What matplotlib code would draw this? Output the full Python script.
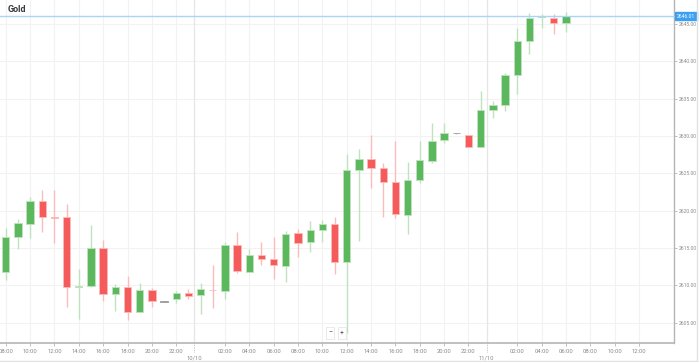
import matplotlib.pyplot as plt
import pandas as pd
from matplotlib.lines import Line2D
from matplotlib.patches import Rectangle
from matplotlib.transforms import blended_transform_factory

plt.rcParams["font.family"] = ["Roboto", "DejaVu Sans"]

# Hourly candles, first one at 09/10 08:00
first_candle = "2024-10-09 08:00"
opens = [2611.76, 2616.45, 2618.19, 2621.35, 2619.20, 2619.12, 2609.80, 2609.93,
         2615.05, 2608.86, 2609.75, 2606.49, 2609.39, 2607.85, 2608.19, 2609.03,
         2608.68, 2609.45, 2609.26, 2615.41, 2611.84, 2614.12, 2613.50, 2612.64,
         2616.98, 2615.78, 2617.38, 2618.19, 2613.18, 2625.41, 2626.97, 2625.68,
         2623.89, 2619.47, 2624.12, 2626.70, 2629.47, 2630.37, 2630.10, 2628.53,
         2633.53, 2634.16, 2638.17, 2642.68, 2645.90, 2645.84, 2645.09]
highs = [2617.65, 2618.86, 2621.80, 2622.78, 2622.78, 2620.90, 2612.16, 2618.09,
         2616.08, 2610.15, 2611.27, 2610.37, 2609.62, 2607.90, 2609.30, 2609.56,
         2610.29, 2612.74, 2615.86, 2617.11, 2614.88, 2615.78, 2616.53, 2617.33,
         2617.56, 2618.67, 2618.76, 2619.12, 2627.60, 2628.23, 2630.10, 2626.43,
         2629.38, 2626.53, 2629.38, 2631.71, 2631.79, 2630.40, 2630.15, 2636.07,
         2634.73, 2638.40, 2644.46, 2646.43, 2646.34, 2646.34, 2646.57]
lows = [2610.73, 2614.88, 2616.31, 2617.20, 2615.64, 2607.07, 2605.47, 2609.85,
        2607.96, 2606.62, 2605.37, 2606.40, 2607.15, 2607.80, 2607.61, 2608.15,
        2606.18, 2607.02, 2608.19, 2611.63, 2611.80, 2612.70, 2610.86, 2610.42,
        2613.77, 2614.52, 2615.78, 2611.49, 2603.60, 2615.95, 2623.00, 2619.12,
        2619.07, 2616.85, 2623.67, 2626.35, 2629.11, 2630.34, 2628.50, 2628.50,
        2632.38, 2633.39, 2635.63, 2640.98, 2644.42, 2643.62, 2643.89]
closes = [2616.45, 2618.32, 2621.35, 2619.16, 2619.00, 2609.75, 2609.90, 2615.01,
          2608.86, 2609.75, 2606.49, 2609.39, 2607.88, 2607.85, 2609.03, 2608.59,
          2609.48, 2609.35, 2615.41, 2611.93, 2614.08, 2613.50, 2612.74, 2616.89,
          2615.68, 2617.38, 2618.23, 2613.14, 2625.41, 2626.97, 2625.68, 2623.85,
          2619.57, 2624.12, 2626.75, 2629.38, 2630.37, 2630.37, 2628.53, 2633.49,
          2634.12, 2638.17, 2642.76, 2645.84, 2646.05, 2645.09, 2646.01]

price_ticks = [2605, 2610, 2615, 2620, 2625, 2630, 2635, 2640, 2645]
day_labels = ["10/10", "11/10"]
tick_range = ("2024-10-09 08:00", "2024-10-11 12:00")
y_range = (2602.30, 2648.21)
x_range = (-0.47, 54.9)

UP = "#5cb85c"
UP_WICK = "#bfe3bf"
DOWN = "#f55b5b"
DOWN_WICK = "#fbbcbc"
FLAT = "#9a9a9a"
GRID = "#f2f2f2"
TEXT = "#8a8a8a"

t0 = pd.Timestamp(first_candle)


def hours_since_start(ts):
    return (pd.Timestamp(ts) - t0) / pd.Timedelta(hours=1)


fig = plt.figure(figsize=(6.99, 3.62), dpi=100)
ax = fig.add_axes([0, 19 / 362, 674.3 / 699, 343 / 362])
ax.set_xlim(*x_range)
ax.set_ylim(*y_range)

# Grid: even hours, skipping midnight which becomes a date separator.
tick_times = pd.date_range(*tick_range, freq="2h")
tick_times = [t for t in tick_times if t.hour != 0]
tick_x = [hours_since_start(t) for t in tick_times]
for x in tick_x:
    ax.axvline(x, color=GRID, lw=0.8, zorder=0)
for p in price_ticks:
    ax.axhline(p, color=GRID, lw=0.8, zorder=0)

midnights = [t0.normalize() + pd.Timedelta(days=d + 1) for d in range(len(day_labels))]
day_x = [hours_since_start(m) - 0.5 for m in midnights]
for x in day_x:
    ax.axvline(x, color="#e6e6e6", lw=0.9, zorder=0)

# Candles
width = 0.6
for i, (o, h, l, c) in enumerate(zip(opens, highs, lows, closes)):
    if c > o:
        body, wick = UP, UP_WICK
    elif c < o:
        body, wick = DOWN, DOWN_WICK
    else:
        body, wick = FLAT, "#cccccc"
    ax.vlines(i, l, h, color=wick, lw=1.0, zorder=1)
    bottom = min(o, c)
    height = max(abs(c - o), 0.05)
    edge = wick if c != o else body
    ax.add_patch(Rectangle((i - width / 2, bottom), width, height,
                           facecolor=body, edgecolor=edge, lw=0.6, zorder=2))

# Current price line and tag
last_price = closes[-1]
ax.axhline(last_price, color="#a9d5f7", lw=1.0, zorder=3, clip_on=False)
trans = blended_transform_factory(ax.transAxes, ax.transData)
ax.text(1.004, last_price, f"{last_price:.2f}", transform=trans, fontsize=3.6,
        color="white", va="center", ha="left",
        bbox=dict(boxstyle="square,pad=0.3", fc="#3b9ff2", ec="#3b9ff2"))

# Axes styling
for side in ("top", "left"):
    ax.spines[side].set_visible(False)
ax.spines["right"].set_color("#b5b5b5")
ax.spines["bottom"].set_color("#b5b5b5")
ax.spines["right"].set_linewidth(1.0)
ax.spines["bottom"].set_linewidth(1.2)

ax.yaxis.tick_right()
ax.set_yticks(price_ticks)
ax.set_yticklabels([f"{p:.2f}" for p in price_ticks])
ax.tick_params(axis="y", length=2, width=0.6, color="#b5b5b5", pad=1,
               labelsize=3.6, labelcolor=TEXT)

ax.set_xticks(tick_x)
ax.set_xticklabels([t.strftime("%H:%M") for t in tick_times])
ax.tick_params(axis="x", length=2, width=0.6, color="#b5b5b5", pad=2,
               labelsize=4.2, labelcolor=TEXT)

trans_x = blended_transform_factory(ax.transData, ax.transAxes)
for x, label in zip(day_x, day_labels):
    ax.plot([x, x], [0, -0.025], color="#b5b5b5", lw=0.6, ls=(0, (1, 1)),
            transform=trans_x, clip_on=False)
    ax.text(x, -0.037, label, transform=trans_x, fontsize=4.2, color=TEXT,
            ha="center", va="top")

# Title and chart chrome
fig.text(8 / 699, 1 - 10 / 362, "Gold", fontsize=6.5, fontweight="bold",
         color="#3a3a3a", va="center", ha="left")
fig.add_artist(Line2D([697 / 699, 697 / 699], [0, 1], color="#e2e2e2", lw=1.0))
fig.add_artist(Line2D([0, 697 / 699], [1.5 / 362, 1.5 / 362], color="#e2e2e2", lw=1.0))
for xpix, sym in ((330, "\u2212"), (342, "+")):
    fig.text(xpix / 699, 1 - 333 / 362, sym, fontsize=5, color="#555555",
             ha="center", va="center",
             bbox=dict(boxstyle="square,pad=0.3", fc="white", ec="#e6e6e6", lw=0.6))

fig.savefig("out.png", dpi=100)
plt.close(fig)
